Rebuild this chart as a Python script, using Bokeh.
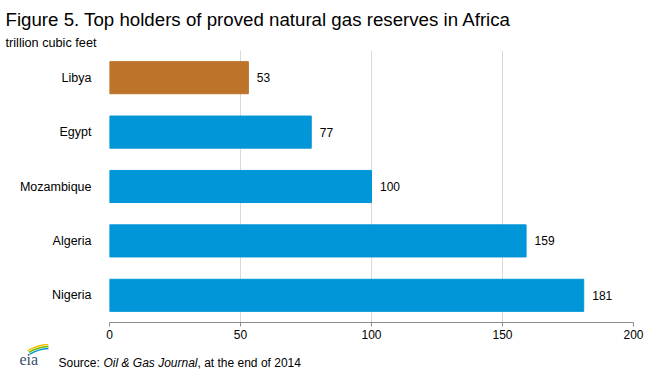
from bokeh.plotting import figure
from bokeh.models import ColumnDataSource, FixedTicker, Range1d
from bokeh.layouts import column
from bokeh.core.properties import value
from bokeh.embed import file_html
from bokeh.resources import INLINE

countries = ["Nigeria", "Algeria", "Mozambique", "Egypt", "Libya"]
reserves = [181, 159, 100, 77, 53]
bar_colors = ["#0096D7", "#0096D7", "#0096D7", "#0096D7", "#BD732A"]
x_ticks = [0, 50, 100, 150, 200]

FONT = "Liberation Sans"
W = 647

def blank(height, y_max):
    f = figure(width=W, height=height, x_range=Range1d(0, W), y_range=Range1d(0, y_max),
               x_axis_type=None, y_axis_type=None, output_backend="svg",
               toolbar_location=None, min_border=0, frame_align=False)
    f.title.visible = False
    f.outline_line_color = None
    f.xgrid.visible = False
    f.ygrid.visible = False
    return f

# header
header = blank(50, 50)
header.text(x=[5], y=[31], text=["Figure 5. Top holders of proved natural gas reserves in Africa"],
            text_font=value(FONT), text_font_size="18.7px", text_color="black",
            text_baseline="alphabetic", text_align="left")
header.text(x=[5], y=[7.3], text=["trillion cubic feet"],
            text_font=value(FONT), text_font_size="12.7px", text_color="black",
            text_baseline="alphabetic", text_align="left")

# main chart
src = ColumnDataSource(dict(country=countries, val=reserves, color=bar_colors,
                            label=[str(v) for v in reserves]))

p = figure(width=W, height=293, y_range=countries, x_range=Range1d(0, 200),
           output_backend="svg", toolbar_location=None, frame_align=False,
           min_border_left=109, min_border_right=14, min_border_top=0, min_border_bottom=21)
p.title.visible = False
p.outline_line_color = None

p.hbar(y="country", right="val", left=0, height=0.59, color="color", source=src)
p.text(x="val", y="country", text="label", source=src, x_offset=8.5,
       text_baseline="middle", text_align="left", text_font=value(FONT),
       text_font_size="12px", text_color="black")

p.ygrid.grid_line_color = None
p.xgrid.grid_line_color = "#D9D9D9"
p.xgrid.grid_line_width = 1

p.xaxis.ticker = FixedTicker(ticks=x_ticks)
p.xaxis.axis_line_color = "#8C8C8C"
p.xaxis.major_tick_line_color = "#8C8C8C"
p.xaxis.major_tick_in = 0
p.xaxis.major_tick_out = 4
p.xaxis.minor_tick_line_color = None
p.xaxis.major_label_text_font = FONT
p.xaxis.major_label_text_font_size = "12px"
p.xaxis.major_label_text_color = "black"
p.xaxis.major_label_standoff = 3

p.yaxis.axis_line_color = None
p.yaxis.major_tick_line_color = None
p.yaxis.minor_tick_line_color = None
p.yaxis.major_label_text_font = FONT
p.yaxis.major_label_text_font_size = "12.5px"
p.yaxis.major_label_text_color = "black"
p.yaxis.major_label_standoff = 12

# footer
footer = blank(26, 26)
for r, c in [(45, "#F2C200"), (43, "#7AB800"), (41, "#0096D7")]:
    footer.arc(x=[50], y=[-20], radius=r, start_angle=1.62, end_angle=2.1,
               line_color=c, line_width=1.5)
footer.text(x=[19], y=[10], text=["eia"], text_font=value("Liberation Serif"),
            text_font_size="16px", text_color="#3A4F6B",
            text_baseline="middle", text_align="left")
footer.text(x=[58], y=[7], text=["Source: "], text_font=value(FONT), text_font_size="12px",
            text_color="black", text_baseline="alphabetic", text_align="left")
footer.text(x=[103], y=[7], text=["Oil & Gas Journal"], text_font=value(FONT),
            text_font_size="12px", text_font_style="italic",
            text_color="black", text_baseline="alphabetic", text_align="left")
footer.text(x=[197], y=[7], text=[", at the end of 2014"], text_font=value(FONT),
            text_font_size="12px", text_color="black",
            text_baseline="alphabetic", text_align="left")

layout = column(header, p, footer, spacing=0)
open("out.html", "w").write(file_html(layout, INLINE))
